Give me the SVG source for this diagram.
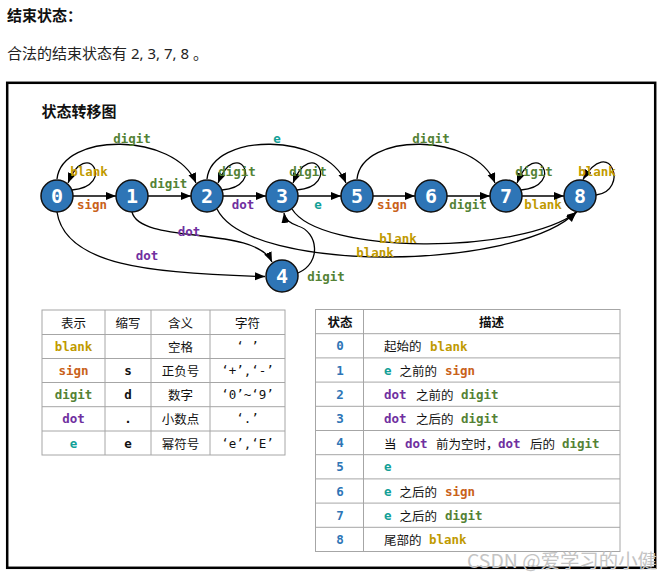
<svg xmlns="http://www.w3.org/2000/svg" width="672" height="581" viewBox="0 0 672 581">
<defs>
<marker id="ah" markerUnits="userSpaceOnUse" markerWidth="11" markerHeight="9" refX="10" refY="4" orient="auto">
<path d="M0,0 L10,4 L0,8 z" fill="#000"/>
</marker>
<style>
.td{font-family:"Noto Sans CJK SC","Noto Sans",sans-serif;font-size:12.5px;fill:#111;dominant-baseline:central;}
.tc{text-anchor:middle;}
.cjk{font-family:"Noto Sans CJK SC","Noto Sans",sans-serif;}
.mono{font-family:"DejaVu Sans Mono","Liberation Mono",monospace;}
.mb{font-family:"DejaVu Sans Mono","Liberation Mono",monospace;font-weight:bold;font-size:12.5px;}
.lbl{font-family:"DejaVu Sans Mono","Liberation Mono",monospace;font-weight:bold;font-size:12.5px;text-anchor:middle;dominant-baseline:central;}
.blank{fill:#c09a00;}
.sign{fill:#c9621a;}
.digit{fill:#548235;}
.dot{fill:#7030a0;}
.e{fill:#12a097;}
.num{fill:#2e75b6;}
.node circle{fill:#2e75b6;stroke:#111;stroke-width:1.5;}
.node text{font-family:"DejaVu Sans Mono","Liberation Mono",monospace;font-weight:bold;font-size:20px;fill:#fff;text-anchor:middle;dominant-baseline:central;}
.edge{fill:none;stroke:#000;stroke-width:1.3;marker-end:url(#ah);}
.grid{stroke:#a6a6a6;stroke-width:1;fill:none;}
</style>
</defs>
<rect width="672" height="581" fill="#fff"/>
<text x="7" y="21" class="cjk" font-size="15" font-weight="bold" fill="#111">结束状态：</text>
<text x="7" y="58.5" font-family="'Noto Sans','Noto Sans CJK SC',sans-serif" font-size="15" fill="#222">合法的结束状态有 2, 3, 7, 8 。</text>
<rect x="7.2" y="82.8" width="648" height="485" fill="#fff" stroke="#000" stroke-width="2.5"/>
<text x="41.5" y="117" class="cjk" font-size="15" font-weight="bold" fill="#111">状态转移图</text>

<g id="connectors">
<path class="edge" d="M72,190 C117,186 87,136 68,183"/>
<path class="edge" d="M73,196 L116,196"/>
<path class="edge" d="M57,179 C62,132 175,132 196,183"/>
<path class="edge" d="M148,196 L191,196"/>
<path class="edge" d="M222,190 C267,186 237,136 218,183"/>
<path class="edge" d="M223,196 L266,196"/>
<path class="edge" d="M207,179 C212,132 325,132 346,183"/>
<path class="edge" d="M297,190 C342,186 312,136 293,183"/>
<path class="edge" d="M298,196 L341,196"/>
<path class="edge" d="M132,212 C140,245 255,225 272,262"/>
<path class="edge" d="M57,212 C65,265 150,274 265,276.5"/>
<path class="edge" d="M298,273 C322,263 318,232 298,226 C290,223 285,220 284,213"/>
<path class="edge" d="M373,196 L415,196"/>
<path class="edge" d="M447,196 L490,196"/>
<path class="edge" d="M357,179 C362,132 475,132 495,183"/>
<path class="edge" d="M521,190 C566,186 536,136 517,183"/>
<path class="edge" d="M522,196 L564,196"/>
<path class="edge" d="M596,195 C630,191 610,134 583,179.5"/>
<path class="edge" d="M292,209 C320,255 520,255 577,212"/>
<path class="edge" d="M217,209 C250,275 520,270 576,212"/>
</g>

<g id="edge-labels">
<text class="lbl blank" x="89" y="171">blank</text>
<text class="lbl sign" x="92" y="204">sign</text>
<text class="lbl digit" x="132" y="138">digit</text>
<text class="lbl digit" x="168.5" y="183">digit</text>
<text class="lbl digit" x="237" y="171">digit</text>
<text class="lbl dot" x="243" y="204">dot</text>
<text class="lbl e" x="277" y="138">e</text>
<text class="lbl digit" x="308" y="171">digit</text>
<text class="lbl e" x="318" y="204">e</text>
<text class="lbl dot" x="189" y="231">dot</text>
<text class="lbl dot" x="147" y="255">dot</text>
<text class="lbl digit" x="326" y="276">digit</text>
<text class="lbl sign" x="392" y="204">sign</text>
<text class="lbl digit" x="468" y="204">digit</text>
<text class="lbl digit" x="431" y="138">digit</text>
<text class="lbl digit" x="534" y="171">digit</text>
<text class="lbl blank" x="543" y="204">blank</text>
<text class="lbl blank" x="597" y="171">blank</text>
<text class="lbl blank" x="398" y="238">blank</text>
<text class="lbl blank" x="375" y="252">blank</text>
</g>

<g id="n0" class="node"><circle cx="57" cy="196" r="16"/><text x="57" y="196">0</text></g>
<g id="n1" class="node"><circle cx="132" cy="196" r="16"/><text x="132" y="196">1</text></g>
<g id="n2" class="node"><circle cx="207" cy="196" r="16"/><text x="207" y="196">2</text></g>
<g id="n3" class="node"><circle cx="282" cy="196" r="16"/><text x="282" y="196">3</text></g>
<g id="n4" class="node"><circle cx="282" cy="276" r="16"/><text x="282" y="276">4</text></g>
<g id="n5" class="node"><circle cx="357" cy="196" r="16"/><text x="357" y="196">5</text></g>
<g id="n6" class="node"><circle cx="431" cy="196" r="16"/><text x="431" y="196">6</text></g>
<g id="n7" class="node"><circle cx="506" cy="196" r="16"/><text x="506" y="196">7</text></g>
<g id="n8" class="node"><circle cx="580" cy="196" r="16"/><text x="580" y="196">8</text></g>

<g id="table1">
<rect class="grid" x="42" y="310" width="243" height="145"/>
<path class="grid" d="M105,310 V455 M151,310 V455 M210,310 V455 M42,334.5 H285 M42,358.5 H285 M42,382.5 H285 M42,406.7 H285 M42,431 H285"/>
<text class="td tc" x="73.5" y="322">表示</text>
<text class="td tc" x="128" y="322">缩写</text>
<text class="td tc" x="180.5" y="322">含义</text>
<text class="td tc" x="247.5" y="322">字符</text>
<text class="td tc mb blank" x="73.5" y="346.5">blank</text>
<text class="td tc" x="180.5" y="346.5">空格</text>
<text class="td tc mono" x="247.5" y="346.5">‘ ’</text>
<text class="td tc mb sign" x="73.5" y="370.5">sign</text>
<text class="td tc mb" x="128" y="370.5">s</text>
<text class="td tc" x="180.5" y="370.5">正负号</text>
<text class="td tc mono" x="247.5" y="370.5">‘+’,‘-’</text>
<text class="td tc mb digit" x="73.5" y="394.6">digit</text>
<text class="td tc mb" x="128" y="394.6">d</text>
<text class="td tc" x="180.5" y="394.6">数字</text>
<text class="td tc mono" x="247.5" y="394.6">‘0’~‘9’</text>
<text class="td tc mb dot" x="73.5" y="418.8">dot</text>
<text class="td tc mb" x="128" y="418.8">.</text>
<text class="td tc" x="180.5" y="418.8">小数点</text>
<text class="td tc mono" x="247.5" y="418.8">‘.’</text>
<text class="td tc mb e" x="73.5" y="443">e</text>
<text class="td tc mb" x="128" y="443">e</text>
<text class="td tc" x="180.5" y="443">幂符号</text>
<text class="td tc mono" x="247.5" y="443">‘e’,‘E’</text>
</g>

<g id="table2">
<rect class="grid" x="315.5" y="309.5" width="304.5" height="242"/>
<path class="grid" d="M363.5,309.5 V551.5 M315.5,333.7 H620 M315.5,357.9 H620 M315.5,382.1 H620 M315.5,406.3 H620 M315.5,430.5 H620 M315.5,454.7 H620 M315.5,478.9 H620 M315.5,503.1 H620 M315.5,527.3 H620"/>
<text class="td tc" x="340" y="321.6" font-weight="bold">状态</text>
<text class="td tc" x="491.5" y="321.6" font-weight="bold">描述</text>
<text class="td tc mb num" x="340" y="345.8">0</text>
<text class="td tc mb num" x="340" y="370">1</text>
<text class="td tc mb num" x="340" y="394.2">2</text>
<text class="td tc mb num" x="340" y="418.4">3</text>
<text class="td tc mb num" x="340" y="442.6">4</text>
<text class="td tc mb num" x="340" y="466.8">5</text>
<text class="td tc mb num" x="340" y="491">6</text>
<text class="td tc mb num" x="340" y="515.2">7</text>
<text class="td tc mb num" x="340" y="539.4">8</text>
<text class="td" x="384" y="345.8">起始的<tspan x="430" class="mb blank">blank</tspan></text>
<text class="td" y="370"><tspan x="384" class="mb e">e</tspan><tspan x="399.5">之前的</tspan><tspan x="445" class="mb sign">sign</tspan></text>
<text class="td" y="394.2"><tspan x="384" class="mb dot">dot</tspan><tspan x="416">之前的</tspan><tspan x="461" class="mb digit">digit</tspan></text>
<text class="td" y="418.4"><tspan x="384" class="mb dot">dot</tspan><tspan x="416">之后的</tspan><tspan x="461" class="mb digit">digit</tspan></text>
<text class="td" y="442.6"><tspan x="384">当</tspan><tspan x="405" class="mb dot">dot</tspan><tspan x="436">前为空时，</tspan><tspan x="498" class="mb dot">dot</tspan><tspan x="530">后的</tspan><tspan x="562" class="mb digit">digit</tspan></text>
<text class="td mb e" x="384" y="466.8">e</text>
<text class="td" y="491"><tspan x="384" class="mb e">e</tspan><tspan x="399.5">之后的</tspan><tspan x="445" class="mb sign">sign</tspan></text>
<text class="td" y="515.2"><tspan x="384" class="mb e">e</tspan><tspan x="399.5">之后的</tspan><tspan x="445" class="mb digit">digit</tspan></text>
<text class="td" x="384" y="539.4">尾部的<tspan x="429" class="mb blank">blank</tspan></text>
</g>

<text x="467" y="568" class="cjk" font-size="19" fill="#c4c4c4" textLength="190" lengthAdjust="spacingAndGlyphs">CSDN @爱学习的小健</text>
</svg>
